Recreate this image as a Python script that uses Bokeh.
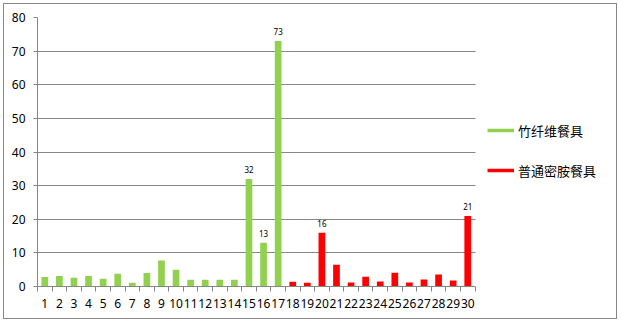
from bokeh.plotting import figure
from bokeh.layouts import column
from bokeh.models import FixedTicker, Legend, LegendItem
from bokeh.embed import file_html
from bokeh.resources import INLINE
from bokeh.core.properties import value

# ---- data ----
categories = list(range(1, 31))
bamboo_x = list(range(1, 18))
bamboo_vals = [2.8, 3.1, 2.6, 3.1, 2.3, 3.8, 1.1, 4.0, 7.7, 5.0,
               2.0, 2.0, 2.0, 2.0, 32, 13, 73]
melamine_x = list(range(18, 31))
melamine_vals = [1.4, 1.1, 16, 6.5, 1.2, 2.9, 1.5, 4.1, 1.2, 2.1, 3.6, 1.8, 21]
label_x = [15, 16, 17, 20, 30]
label_vals = [32, 13, 73, 16, 21]
y_ticks = [0, 10, 20, 30, 40, 50, 60, 70, 80]
series_names = ["竹纤维餐具", "普通密胺餐具"]

GREEN = "#92D050"
RED = "#FF0000"
GRAY = "#868686"
FONT = "Noto Sans"
CJK = "Noto Sans CJK SC"

cat_lo, cat_hi = categories[0] - 0.5, categories[-1] + 0.5

# frame spans the legend area too; axis and grid lines are bounded to the categories
p = figure(width=612, height=314, output_backend="svg", toolbar_location=None,
           x_range=(cat_lo, 40.2), y_range=(0, 80),
           min_border_left=33, min_border_top=13, min_border_bottom=32,
           min_border_right=0)
p.outline_line_color = None
p.background_fill_color = "white"
p.border_fill_color = "white"

g = p.vbar(x=bamboo_x, top=bamboo_vals, width=0.46, fill_color=GREEN, line_color=None)
r = p.vbar(x=melamine_x, top=melamine_vals, width=0.46, fill_color=RED, line_color=None)

p.text(x=label_x, y=label_vals, text=[str(v) for v in label_vals],
       text_font=value(FONT), text_font_size="8px", text_color="black",
       text_align="center", text_baseline="bottom", y_offset=-6)

# legend proxies (line style as in the reference)
lg = p.line(x=bamboo_x[:1], y=bamboo_vals[:1], line_color=GREEN, line_width=3.5)
lr = p.line(x=melamine_x[:1], y=melamine_vals[:1], line_color=RED, line_width=3.5)

xt = FixedTicker(ticks=categories, minor_ticks=[c - 0.5 for c in categories] + [cat_hi])
p.xaxis.ticker = xt
p.xaxis.bounds = (cat_lo, cat_hi)
p.xaxis.major_tick_out = 0
p.xaxis.major_tick_in = 0
p.xaxis.minor_tick_out = 5
p.xaxis.minor_tick_in = 0
p.xaxis.minor_tick_line_color = GRAY
p.xaxis.axis_line_color = GRAY
p.xaxis.major_label_text_font = FONT
p.xaxis.major_label_text_font_size = "12px"
p.xaxis.major_label_text_color = "black"
p.xaxis.major_label_standoff = 7

p.yaxis.ticker = FixedTicker(ticks=y_ticks)
p.yaxis.minor_tick_line_color = None
p.yaxis.major_tick_out = 4
p.yaxis.major_tick_in = 0
p.yaxis.major_tick_line_color = GRAY
p.yaxis.axis_line_color = GRAY
p.yaxis.major_label_text_font = FONT
p.yaxis.major_label_text_font_size = "12px"
p.yaxis.major_label_text_color = "black"
p.yaxis.major_label_standoff = 8

p.xgrid.grid_line_color = None
yg = p.ygrid[0]
if "cross_bounds" in yg.properties():
    yg.cross_bounds = (cat_lo, cat_hi)
    yg.grid_line_color = GRAY
    yg.grid_line_width = 1
else:
    yg.grid_line_color = None
    p.segment(x0=cat_lo, x1=cat_hi, y0=y_ticks[1:], y1=y_ticks[1:],
              line_color=GRAY, line_width=1, level="underlay")

legend = Legend(items=[LegendItem(label=series_names[0], renderers=[lg]),
                       LegendItem(label=series_names[1], renderers=[lr])],
                location=(450, 106), orientation="vertical",
                glyph_width=27, glyph_height=20, spacing=20, label_standoff=4,
                padding=0, margin=0, border_line_color=None,
                background_fill_alpha=0,
                label_text_font=CJK, label_text_font_size="13px",
                label_text_color="black")
p.add_layout(legend, "center")

layout = column(p, styles={"margin-left": "3px", "margin-top": "3px",
                           "border": "1px solid #888888"})

open("out.html", "w").write(file_html(layout, INLINE))
